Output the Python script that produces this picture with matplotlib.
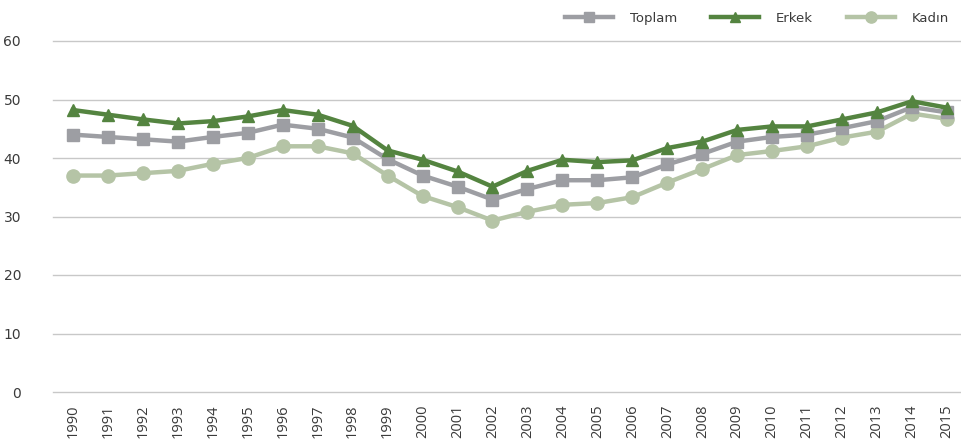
import numpy as np
import matplotlib.pyplot as plt

# ========== 数据 ==========
years = list(range(1990, 2016))
toplam = [44.0, 43.6, 43.2, 42.8, 43.6, 44.3, 45.7, 45.0, 43.5, 39.8, 37.0, 35.1, 32.9,
          34.7, 36.2, 36.2, 36.7, 38.9, 40.7, 42.8, 43.6, 44.0, 45.1, 46.3, 48.7, 47.8]
erkek = [48.2, 47.4, 46.6, 45.9, 46.3, 47.1, 48.2, 47.4, 45.5, 41.3, 39.7, 37.7, 35.1,
         37.8, 39.7, 39.3, 39.6, 41.7, 42.8, 44.8, 45.4, 45.4, 46.6, 47.8, 49.7, 48.6]
kadin = [37.0, 37.0, 37.4, 37.8, 39.0, 40.0, 42.0, 42.0, 40.8, 37.0, 33.5, 31.6, 29.3,
         30.8, 32.0, 32.3, 33.3, 35.8, 38.1, 40.5, 41.2, 42.0, 43.5, 44.5, 47.6, 46.7]
yticks = [0, 10, 20, 30, 40, 50, 60]

GREY = '#9d9ea3'
GREEN = '#548440'
SAGE = '#b5c4a6'
TXT = '#3a3a3a'
NARROW = ['Liberation Sans Narrow', 'DejaVu Sans']

fig = plt.figure(figsize=(9.61, 4.45), dpi=100)
ax = fig.add_axes([53 / 961, 1 - 392 / 445, 1 - 53 / 961, 351 / 445])

ax.plot(years, toplam, color=GREY, lw=3.2, marker='s', ms=8.5, label='Toplam', zorder=3)
ax.plot(years, erkek, color=GREEN, lw=3.2, marker='^', ms=9, label='Erkek', zorder=4)
ax.plot(years, kadin, color=SAGE, lw=3.2, marker='o', ms=9.5, label='Kadın', zorder=2)

ax.set_xlim(1989.43, 2015.4)
ax.set_ylim(0, 60)
ax.set_yticks(yticks)
ax.set_xticks(years)
ax.set_xticklabels([str(y) for y in years], rotation=90, fontsize=10.5, color=TXT,
                   family=['Open Sans', 'DejaVu Sans'])
ax.set_yticklabels([str(v) for v in yticks], fontsize=10, color=TXT, family=NARROW)
ax.tick_params(axis='both', length=0)
ax.tick_params(axis='x', pad=9)
ax.tick_params(axis='y', pad=23)

ax.grid(axis='y', color='#c8c8c8', lw=1)
for gl in ax.get_ygridlines():
    gl.set_clip_on(False)
ax.set_axisbelow(True)
for s in ax.spines.values():
    s.set_visible(False)

fig.legend(loc='upper right', bbox_to_anchor=(1.0, 1.0), ncol=3, frameon=False,
           handlelength=3.6, columnspacing=2.6, handletextpad=1.3, markerscale=0.85,
           prop={'family': NARROW, 'size': 9.5}, labelcolor=TXT)

plt.savefig('out.png', dpi=100)
